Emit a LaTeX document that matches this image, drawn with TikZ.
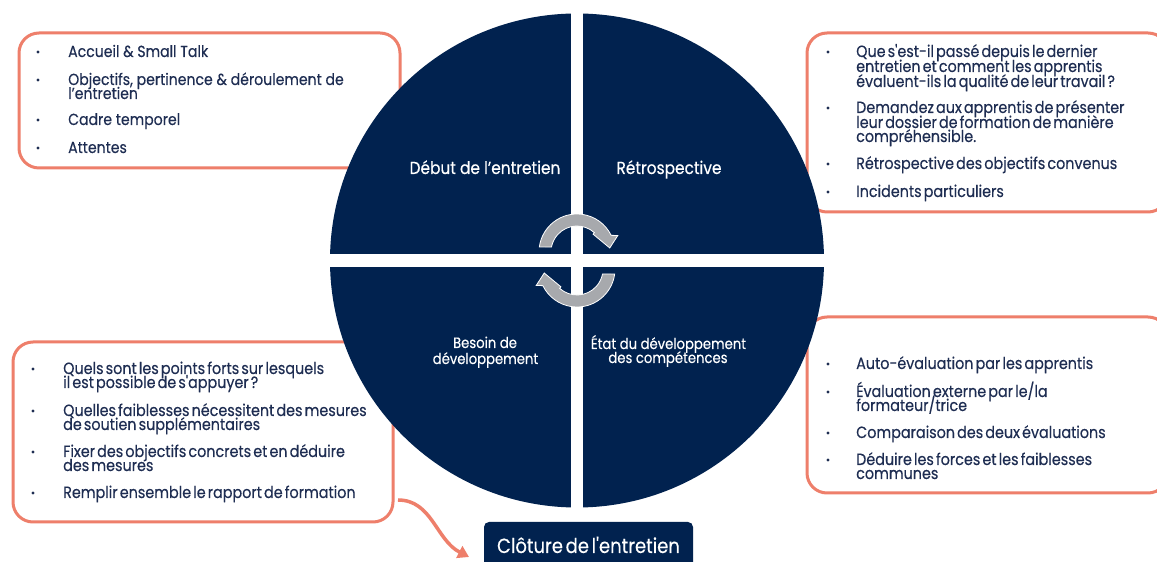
\documentclass[tikz,border=0pt]{standalone}
\usepackage{fontspec}
\setmainfont{Poppins}[FakeStretch=0.88,FakeBold=0.3]
\newfontfamily\tightfont{Poppins}[FakeStretch=0.88,FakeBold=0.3,WordSpace=0.55]
\usetikzlibrary{arrows.meta}
\definecolor{navy}{HTML}{01224F}
\definecolor{salmon}{HTML}{EE7F6B}
\definecolor{ink}{HTML}{1E2D52}
\definecolor{arrowgray}{HTML}{A7A9AD}
\begin{document}
\begin{tikzpicture}[x=1pt,y=1pt,
  box/.style={draw=salmon, line width=3pt, rounded corners=20pt, fill=white},
  txt/.style={anchor=base west, inner sep=0pt, text=ink, font=\fontsize{16}{16}\selectfont},
  ttxt/.style={txt, font=\tightfont\fontsize{16.3}{16}\selectfont},
  bul/.style={circle, fill=ink, inner sep=0pt, minimum size=3.2pt},
  lab/.style={anchor=base, inner sep=0pt, text=white, font=\fontsize{17.5}{17}\selectfont},
  slab/.style={lab, font=\fontsize{15}{15}\selectfont},
  cyc/.style={fill=arrowgray, draw=white, line width=0.8pt},
  orangearrow/.style={draw=salmon, line width=3.5pt, -{Triangle[length=11pt,width=13pt]}},
]
\useasboundingbox (0,0) rectangle (1157,562);
\fill[white] (0,0) rectangle (1157,562);

% ---- boxes ----
\draw[box] (19,529) rectangle (400,394);
\draw[box] (807,529) rectangle (1168,350);
\draw[box] (13,220) rectangle (393,40);
\draw[box] (807,245) rectangle (1168,69);

% ---- top-left text ----
\node[bul] (tlb1) at (38,510) {};
\node[txt] (tl1) at (68,505) {Accueil \& Small Talk};
\node[bul] (tlb2) at (38,482) {};
\node[txt] (tl2) at (68,477) {Objectifs, pertinence \& déroulement de};
\node[txt] (tl2b) at (68,463) {l'entretien};
\node[bul] (tlb3) at (38,442) {};
\node[txt] (tl3) at (68,437) {Cadre temporel};
\node[bul] (tlb4) at (38,414) {};
\node[txt] (tl4) at (68,409) {Attentes};

% ---- top-right text ----
\node[bul] (trb1) at (828,510) {};
\node[ttxt] (tr1) at (856,505) {Que s'est-il passé depuis le dernier};
\node[ttxt] (tr1b) at (856,490) {entretien et comment les apprentis};
\node[ttxt] (tr1c) at (856,475) {évaluent-ils la qualité de leur travail ?};
\node[bul] (trb2) at (828,454) {};
\node[ttxt] (tr2) at (856,449) {Demandez aux apprentis de présenter};
\node[ttxt] (tr2b) at (856,434) {leur dossier de formation de manière};
\node[ttxt] (tr2c) at (856,420) {compréhensible.};
\node[bul] (trb3) at (828,398) {};
\node[ttxt] (tr3) at (856,393) {Rétrospective des objectifs convenus};
\node[bul] (trb4) at (828,370) {};
\node[ttxt] (tr4) at (856,365) {Incidents particuliers};

% ---- bottom-left text ----
\node[bul] (blb1) at (33,193) {};
\node[ttxt] (bl1) at (63,188) {Quels sont les points forts sur lesquels};
\node[ttxt] (bl1b) at (63,174) {il est possible de s'appuyer ?};
\node[bul] (blb2) at (33,151) {};
\node[ttxt] (bl2) at (63,146) {Quelles faiblesses nécessitent des mesures};
\node[ttxt] (bl2b) at (63,132) {de soutien supplémentaires};
\node[bul] (blb3) at (33,110) {};
\node[ttxt] (bl3) at (63,105) {Fixer des objectifs concrets et en déduire};
\node[ttxt] (bl3b) at (63,91) {des mesures};
\node[bul] (blb4) at (33,69) {};
\node[ttxt] (bl4) at (63,64) {Remplir ensemble le rapport de formation};

% ---- bottom-right text ----
\node[bul] (brb1) at (828,198) {};
\node[ttxt] (br1) at (856,193) {Auto-évaluation par les apprentis};
\node[bul] (brb2) at (828,170) {};
\node[ttxt] (br2) at (856,165) {Évaluation externe par le/la};
\node[ttxt] (br2b) at (856,151) {formateur/trice};
\node[bul] (brb3) at (828,129) {};
\node[ttxt] (br3) at (856,124) {Comparaison des deux évaluations};
\node[bul] (brb4) at (828,102) {};
\node[ttxt] (br4) at (856,97) {Déduire les forces et les faiblesses};
\node[ttxt] (br4b) at (856,83) {communes};

% ---- orange arrow ----
\coordinate (as) at (398,62);
\coordinate (ae) at (469,5);
\draw[orangearrow] (as) .. controls (432,62) and (436,22) .. (ae);

% ---- circle ----
\coordinate (cc) at (577,301.5);
\fill[navy] (cc) circle[radius=247];
\fill[white] (571,40) rectangle (583,560);
\fill[white] (320,295) rectangle (835,308);

% ---- cycle arrows ----
\coordinate (c1) at (577,310);
\path[cyc] ([shift={(c1)}]172.4:38) arc[start angle=172.4, end angle=26, radius=38]
  -- ([shift={(c1)}]22:44) -- ([shift={(c1)}]7:33) -- ([shift={(c1)}]48:24)
  -- ([shift={(c1)}]48:26) arc[start angle=48, end angle=169, radius=26] -- cycle;
\begin{scope}[rotate around={180:(cc)}]
\path[cyc] ([shift={(c1)}]172.4:38) arc[start angle=172.4, end angle=26, radius=38]
  -- ([shift={(c1)}]22:44) -- ([shift={(c1)}]7:33) -- ([shift={(c1)}]48:24)
  -- ([shift={(c1)}]48:26) arc[start angle=48, end angle=169, radius=26] -- cycle;
\end{scope}

% ---- quadrant labels ----
\node[lab] (q1) at (485,388) {Début de l'entretien};
\node[lab] (q2) at (669,388) {Rétrospective};
\node[slab] (q3a) at (485,214) {Besoin de};
\node[slab] (q3b) at (485.5,198) {développement};
\node[slab] (q4a) at (668.5,213) {État du développement};
\node[slab] (q4b) at (668,199) {des compétences};

% ---- closing box ----
\fill[navy, rounded corners=5pt] (484,-10) rectangle (693,40);
\node[lab, font=\tightfont\fontsize{20.5}{20}\selectfont] (close) at (588.5,9) {Clôture de l'entretien};
\end{tikzpicture}
\end{document}
